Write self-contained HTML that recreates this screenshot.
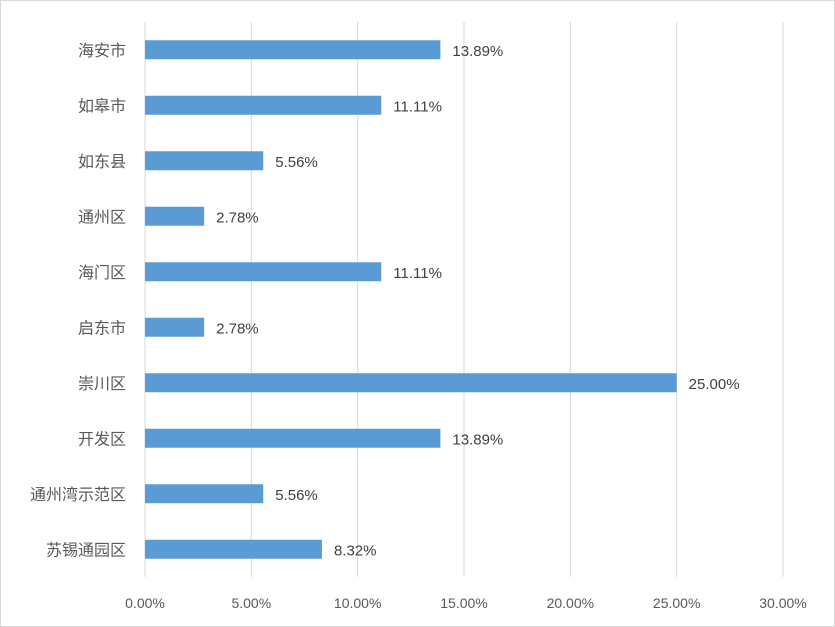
<!DOCTYPE html>
<html><head><meta charset="utf-8"><style>
body{margin:0;background:#fff}
svg{display:block;font-family:"Liberation Sans","Noto Sans CJK SC",sans-serif}
</style></head><body>
<svg id="chart" width="835" height="627">
<rect x="0.5" y="0.5" width="834" height="626" fill="#fff" stroke="#d9d9d9"/>
<g id="grid"></g><g id="bars"></g><g id="labels"></g>
</svg>
<script>
const categories=["海安市","如皋市","如东县","通州区","海门区","启东市","崇川区","开发区","通州湾示范区","苏锡通园区"];
const values=[13.89,11.11,5.56,2.78,11.11,2.78,25.00,13.89,5.56,8.32];
const valueLabels=["13.89%","11.11%","5.56%","2.78%","11.11%","2.78%","25.00%","13.89%","5.56%","8.32%"];
const ticks=[0,5,10,15,20,25,30];
const tickLabels=["0.00%","5.00%","10.00%","15.00%","20.00%","25.00%","30.00%"];
const NS="http://www.w3.org/2000/svg";
const x0=145,x1=783,yTop=22,yBottom=577;
const xs=v=>x0+(v-ticks[0])/(ticks[ticks.length-1]-ticks[0])*(x1-x0);
const band=(yBottom-yTop)/categories.length;
const yc=i=>yTop+band*(i+0.5);
function mk(t,a,p){const e=document.createElementNS(NS,t);for(const k in a)e.setAttribute(k,a[k]);p.appendChild(e);return e;}
const g=document.getElementById('grid'),b=document.getElementById('bars'),l=document.getElementById('labels');
ticks.forEach((t,i)=>{
 const ln=mk('line',{x1:xs(t),x2:xs(t),y1:yTop,y2:yBottom,stroke:'#d9d9d9','stroke-width':1},g);
 
 
 const tx=mk('text',{x:xs(t),y:608,'text-anchor':'middle','font-size':14,fill:'#595959'},l);
 tx.textContent=tickLabels[i];
 
 
});
const ax=mk('line',{x1:x0,x2:x0,y1:yTop,y2:yBottom,stroke:'#d9d9d9'},g);


categories.forEach((c,i)=>{
 const y=yc(i);
 const r=mk('rect',{x:x0,y:y-9.5,width:xs(values[i])-x0,height:19,fill:'#5b9bd5'},b);
 
 
 const cl=mk('text',{x:126,y:y+6,'text-anchor':'end','font-size':16,fill:'#595959'},l);
 cl.textContent=c;
 
 
 const vl=mk('text',{x:xs(values[i])+12,y:y+6,'font-size':15,fill:'#404040'},l);
 vl.textContent=valueLabels[i];
 
 
});
</script>
</body></html>
